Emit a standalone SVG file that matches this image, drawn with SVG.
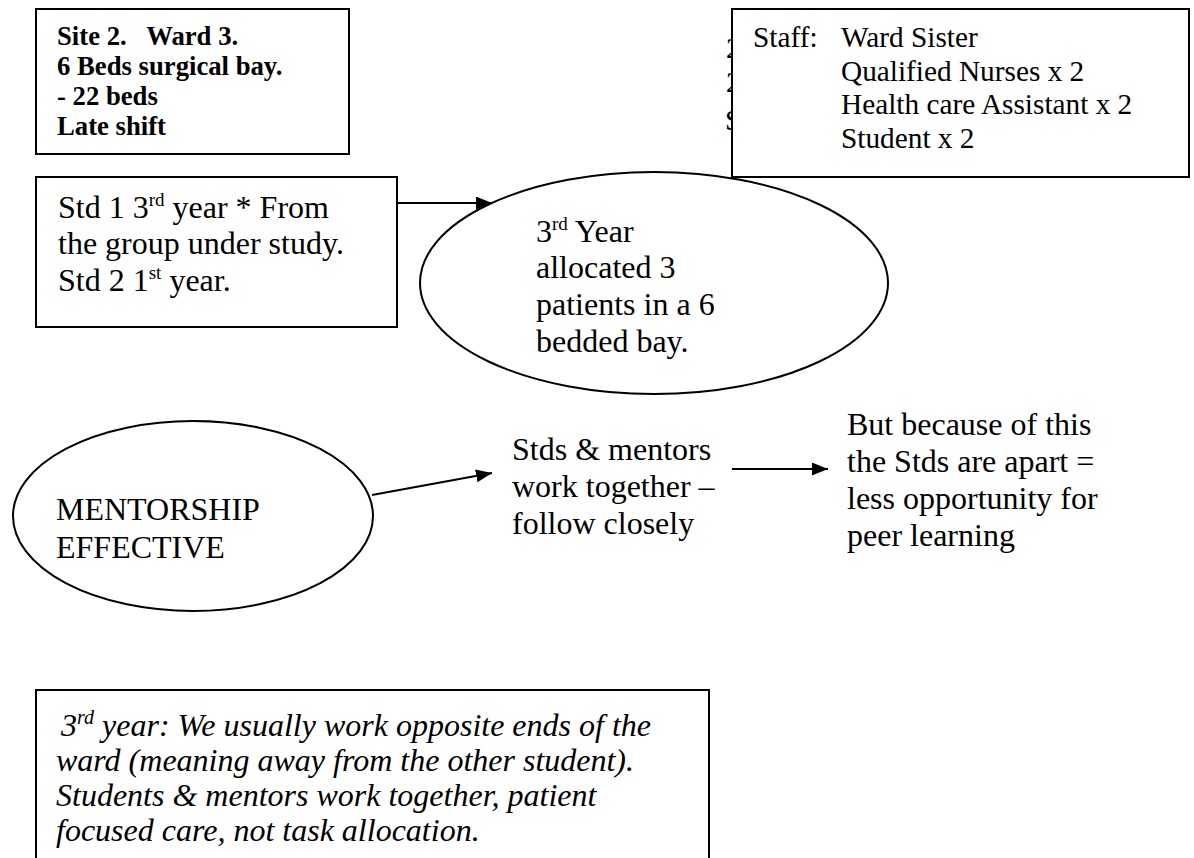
<svg xmlns="http://www.w3.org/2000/svg" width="1194" height="858" viewBox="0 0 1194 858">
<style>
.bx{fill:#fff;stroke:#000;stroke-width:2}
.el{fill:#fff;stroke:#000;stroke-width:2}
.t{font-family:"Liberation Serif","Times New Roman",serif;fill:#000}
.b{font-weight:bold;font-size:26.7px}
.n{font-size:32px}
.s{font-size:29.3px}
.i{font-style:italic;font-size:32px}
.ln{stroke:#000;stroke-width:2;fill:none}
</style>
<defs>
<marker id="ah" markerUnits="userSpaceOnUse" markerWidth="16" markerHeight="13" refX="16" refY="6.5" orient="auto">
<path d="M0,0 L16,6.5 L0,13 z" fill="#000"/>
</marker>
</defs>
<rect width="1194" height="858" fill="#fff"/>

<g id="hidden-fragments">
<text class="t s" x="726" y="58">2</text>
<text class="t s" x="726" y="92">2</text>
<text class="t s" x="725" y="130">S</text>
</g>

<g id="site-box">
<rect class="bx" x="36" y="9" width="313" height="145"/>
<text class="t b" x="57" y="45" xml:space="preserve">Site 2.   Ward 3.</text>
<text class="t b" x="57" y="75">6 Beds surgical bay.</text>
<text class="t b" x="57" y="105">- 22 beds</text>
<text class="t b" x="57" y="135">Late shift</text>
</g>

<g id="staff-box">
<rect class="bx" x="732" y="9" width="457" height="168"/>
<text class="t s" x="753" y="47">Staff:</text>
<text class="t s" x="841" y="47">Ward Sister</text>
<text class="t s" x="841" y="81">Qualified Nurses x 2</text>
<text class="t s" x="841" y="114">Health care Assistant x 2</text>
<text class="t s" x="841" y="148">Student x 2</text>
</g>

<g id="std-box">
<rect class="bx" x="36" y="177" width="361" height="150"/>
<text class="t n" x="58" y="218">Std 1 3<tspan font-size="19" dy="-12">rd</tspan><tspan dy="12"> year * From</tspan></text>
<text class="t n" x="58" y="254">the group under study.</text>
<text class="t n" x="58" y="291">Std 2 1<tspan font-size="19" dy="-12">st</tspan><tspan dy="12"> year.</tspan></text>
</g>

<g id="third-year">
<ellipse class="el" cx="654" cy="283" rx="234" ry="111"/>
<text class="t n" x="536" y="242">3<tspan font-size="19" dy="-12">rd</tspan><tspan dy="12"> Year</tspan></text>
<text class="t n" x="536" y="278">allocated 3</text>
<text class="t n" x="536" y="315">patients in a 6</text>
<text class="t n" x="536" y="352">bedded bay.</text>
</g>

<g id="mentorship">
<ellipse class="el" cx="193" cy="516" rx="180" ry="95"/>
<text class="t n" x="56" y="520">MENTORSHIP</text>
<text class="t n" x="56" y="558">EFFECTIVE</text>
</g>

<g id="stds-mentors">
<text class="t n" x="512" y="460">Stds &amp; mentors</text>
<text class="t n" x="512" y="497">work together –</text>
<text class="t n" x="512" y="534">follow closely</text>
</g>

<g id="but-because">
<text class="t n" x="847" y="435">But because of this</text>
<text class="t n" x="847" y="472">the Stds are apart =</text>
<text class="t n" x="847" y="509">less opportunity for</text>
<text class="t n" x="847" y="546">peer learning</text>
</g>

<g id="quote-box">
<path class="ln" d="M36,858 V690 H709 V858"/>
<text class="t i" x="53" y="736" xml:space="preserve"> 3<tspan font-size="20" dy="-12">rd</tspan><tspan dy="12"> year: We usually work opposite ends of the</tspan></text>
<text class="t i" x="56" y="771">ward (meaning away from the other student).</text>
<text class="t i" x="56" y="806">Students &amp; mentors work together, patient</text>
<text class="t i" x="56" y="841">focused care, not task allocation.</text>
</g>

<g id="connectors">
<line class="ln" x1="397" y1="203" x2="492" y2="203" marker-end="url(#ah)"/>
<line class="ln" x1="372" y1="495" x2="492" y2="473" marker-end="url(#ah)"/>
<line class="ln" x1="732" y1="469" x2="828" y2="469" marker-end="url(#ah)"/>
</g>
</svg>
